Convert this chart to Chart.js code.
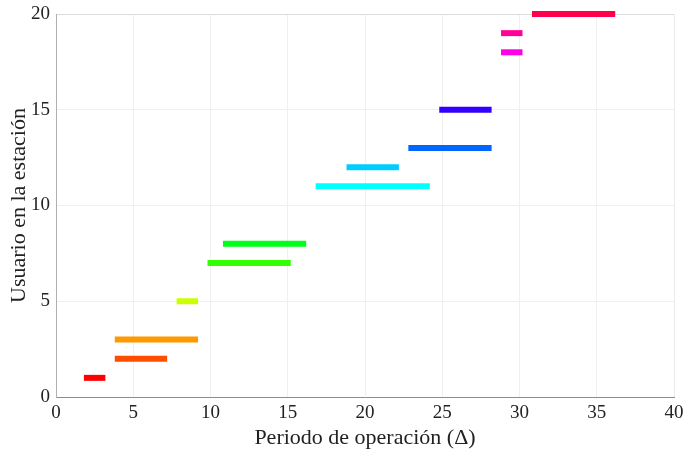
<!DOCTYPE html>
<html>
<head>
<meta charset="utf-8">
<script src="https://cdn.jsdelivr.net/npm/chart.js@4"></script>
<style>
  html, body { margin: 0; padding: 0; background: #fff; }
  #wrap { width: 685px; height: 454px; }
</style>
</head>
<body>
<div id="wrap"><canvas id="myChart" width="685" height="454"></canvas></div>
<script>
// data
const users  = [1, 2, 3, 5, 7, 8, 11, 12, 13, 15, 18, 19, 20];
const starts = [2, 4, 4, 8, 10, 11, 17, 19, 23, 25, 29, 29, 31];
const ends   = [3, 7, 9, 9, 15, 16, 24, 22, 28, 28, 30, 30, 36];
const colors = ['#ff0000', '#ff4d00', '#ff9900', '#ccff00', '#33ff00', '#00ff1a', '#00ffff',
                '#00ccff', '#0066ff', '#3300ff', '#ff00e6', '#ff0099', '#ff004d'];
const xTicks = [0, 5, 10, 15, 20, 25, 30, 35, 40];
const yTicks = [0, 5, 10, 15, 20];

const serif = 'Liberation Serif';

// one line dataset per segment
const datasets = users.map((u, i) => ({
  data: [{x: starts[i], y: u}, {x: ends[i], y: u}],
  borderColor: colors[i],
  borderWidth: 6,
  borderCapStyle: 'square',
  pointRadius: 0,
  showLine: true,
  fill: false,
  clip: false
}));

const config = {
  type: 'scatter',
  data: { datasets },
  options: {
    responsive: false,
    animation: false,
    layout: { padding: { top: 14, right: 11, left: 0, bottom: 0 } },
    plugins: { legend: { display: false }, tooltip: { enabled: false } },
    scales: {
      x: {
        min: 0, max: 40,
        afterBuildTicks: (s) => { s.ticks = xTicks.map(v => ({value: v})); },
        afterFit: (s) => { s.height = 57; s.paddingLeft = 0; s.paddingRight = 0; },
        grid: {
          drawTicks: false,
          color: (ctx) => ctx.tick && ctx.tick.value === 40 ? '#ececec' : '#f0f0f0'
        },
        border: { color: '#8c8c8c', width: 1 },
        ticks: { padding: 5, color: '#222', font: { family: serif, size: 19 } },
        title: {
          display: true, text: 'Periodo de operación (Δ)', color: '#222',
          font: { family: serif, size: 22 }, padding: { top: 0, bottom: 3 }
        }
      },
      y: {
        min: 0, max: 20,
        afterBuildTicks: (s) => { s.ticks = yTicks.map(v => ({value: v})); },
        afterFit: (s) => { s.width = 56; s.paddingTop = 0; s.paddingBottom = 0; },
        grid: {
          drawTicks: false,
          color: (ctx) => ctx.tick && ctx.tick.value === 20 ? '#dcdcdc' : '#f0f0f0'
        },
        border: { color: '#b0b0b0', width: 1 },
        ticks: { padding: 6, color: '#222', font: { family: serif, size: 19 } },
        title: {
          display: true, text: 'Usuario en la estación', color: '#222',
          font: { family: serif, size: 22 }, padding: { top: 6, bottom: 0 }
        }
      }
    }
  }
};

const myChart = new Chart(document.getElementById('myChart'), config);
</script>
</body>
</html>
